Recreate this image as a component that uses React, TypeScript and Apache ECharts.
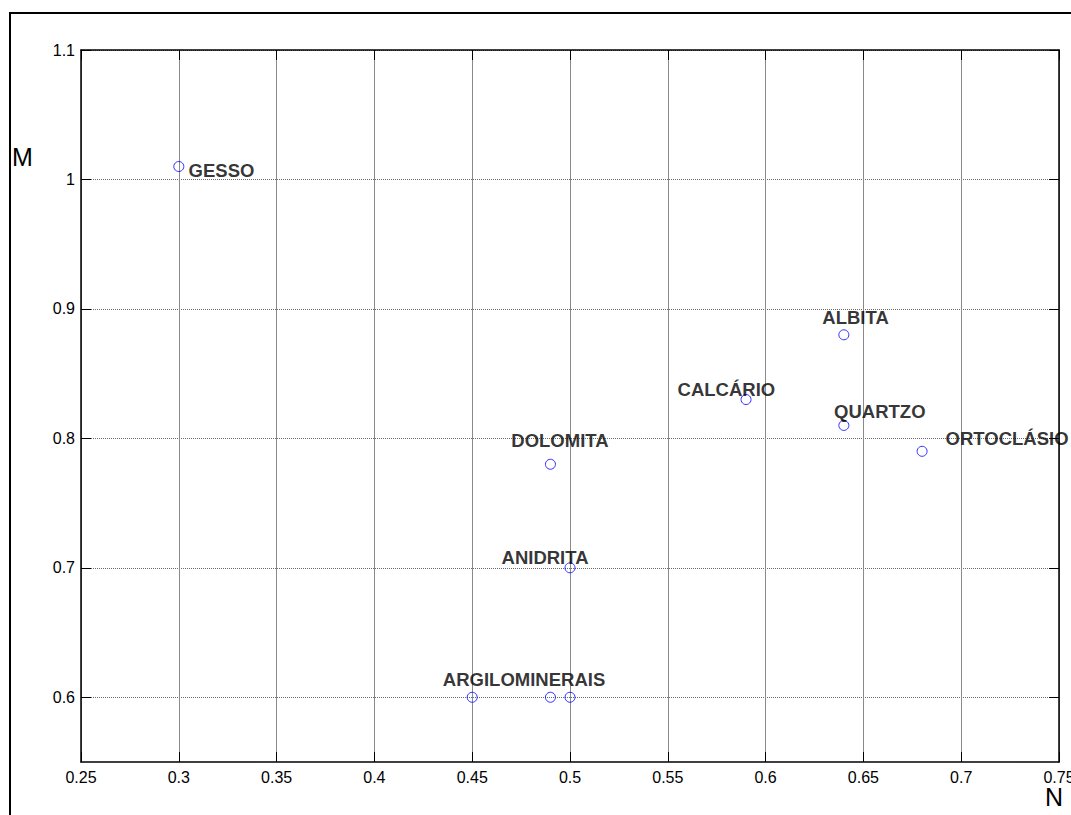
import React, { useEffect, useRef } from 'react';
import * as echarts from 'echarts';

// Mineral points (N, M)
const pointN = [0.30, 0.64, 0.59, 0.64, 0.68, 0.49, 0.50, 0.45, 0.49, 0.50];
const pointM = [1.01, 0.88, 0.83, 0.81, 0.79, 0.78, 0.70, 0.60, 0.60, 0.60];

// Text annotations (placed in data coordinates, as in the original plot)
const labelNames = ['GESSO', 'ALBITA', 'CALCÁRIO', 'QUARTZO', 'ORTOCLÁSIO', 'DOLOMITA', 'ANIDRITA', 'ARGILOMINERAIS'];
const labelN = [0.305, 0.629, 0.555, 0.635, 0.692, 0.470, 0.465, 0.435];
const labelM = [1.007, 0.893, 0.838, 0.821, 0.800, 0.798, 0.708, 0.614];

// Axis ticks
const xMin = 0.25;
const xMax = 0.75;
const xStep = 0.05;
const yMin = 0.55;
const yMax = 1.1;
const yTickValues = [0.6, 0.7, 0.8, 0.9, 1.0, 1.1];

const FONT = 'Liberation Sans, Arial, sans-serif';

export default function App() {
  const ref = useRef<HTMLDivElement>(null);

  useEffect(() => {
    if (!ref.current) return;
    const chart = echarts.init(ref.current, undefined, { renderer: 'svg' });

    const tickStyle = { inside: true, length: 10, lineStyle: { color: '#000', width: 1 } };
    const axisLineStyle = { show: true, lineStyle: { color: '#000', width: 1.5 } };

    chart.setOption({
      animation: false,
      backgroundColor: '#fff',
      grid: { left: 81, top: 50, right: 12, bottom: 53, containLabel: false, outerBoundsMode: 'none' },
      xAxis: [
        {
          type: 'value',
          position: 'bottom',
          min: xMin,
          max: xMax,
          interval: xStep,
          axisLine: axisLineStyle,
          axisTick: tickStyle,
          axisLabel: { color: '#000', fontSize: 16, fontFamily: FONT, margin: 7, hideOverlap: false },
          splitLine: { show: true, lineStyle: { color: '#8a8a8a', width: 1, type: 'solid' } },
        },
        {
          type: 'value',
          position: 'top',
          min: xMin,
          max: xMax,
          interval: xStep,
          axisLine: axisLineStyle,
          axisTick: tickStyle,
          axisLabel: { show: false },
          splitLine: { show: false },
        },
      ],
      yAxis: [
        {
          type: 'value',
          position: 'left',
          min: yMin,
          max: yMax,
          axisLine: axisLineStyle,
          axisTick: { ...tickStyle, customValues: yTickValues },
          axisLabel: { color: '#000', fontSize: 16, fontFamily: FONT, margin: 6, customValues: yTickValues },
          splitLine: { show: true, lineStyle: { color: '#6a6a6a', width: 1, type: [1, 1] } },
        },
        {
          type: 'value',
          position: 'right',
          min: yMin,
          max: yMax,
          axisLine: axisLineStyle,
          axisTick: { ...tickStyle, customValues: yTickValues },
          axisLabel: { show: false, customValues: yTickValues },
          splitLine: { show: false },
        },
      ],
      series: [
        {
          type: 'scatter',
          xAxisIndex: 0,
          yAxisIndex: 0,
          symbol: 'circle',
          symbolSize: 10,
          itemStyle: { color: 'rgba(255,255,255,0)', borderColor: '#0000ff', borderWidth: 1 },
          data: pointN.map((n, i) => [n, pointM[i]]),
          z: 5,
        },
        {
          type: 'scatter',
          xAxisIndex: 0,
          yAxisIndex: 0,
          symbolSize: 0,
          silent: true,
          data: labelN.map((n, i) => ({ value: [n, labelM[i]], name: labelNames[i] })),
          label: {
            show: true,
            position: 'right',
            distance: 0,
            formatter: (p: any) => p.name,
            color: '#000',
            fontSize: 18.5,
            fontWeight: 'bold',
            fontFamily: FONT,
          },
          z: 6,
        },
      ],
      graphic: [
        {
          type: 'rect',
          z: -1,
          shape: { x: 10, y: 13, width: 1200, height: 900 },
          style: { fill: 'none', stroke: '#000', lineWidth: 2 },
        },
        {
          type: 'text',
          x: 12,
          y: 157,
          style: { text: 'M', fill: '#000', fontSize: 25, fontFamily: FONT, verticalAlign: 'middle', lineHeight: 18 },
        },
        {
          type: 'text',
          x: 1045,
          y: 797,
          style: { text: 'N', fill: '#000', fontSize: 25, fontFamily: FONT, verticalAlign: 'middle', lineHeight: 16 },
        },
      ],
    });

    return () => chart.dispose();
  }, []);

  return (
    <div
      ref={ref}
      style={{ position: 'fixed', left: 0, top: 0, width: 1071, height: 815, background: '#fff' }}
    />
  );
}
